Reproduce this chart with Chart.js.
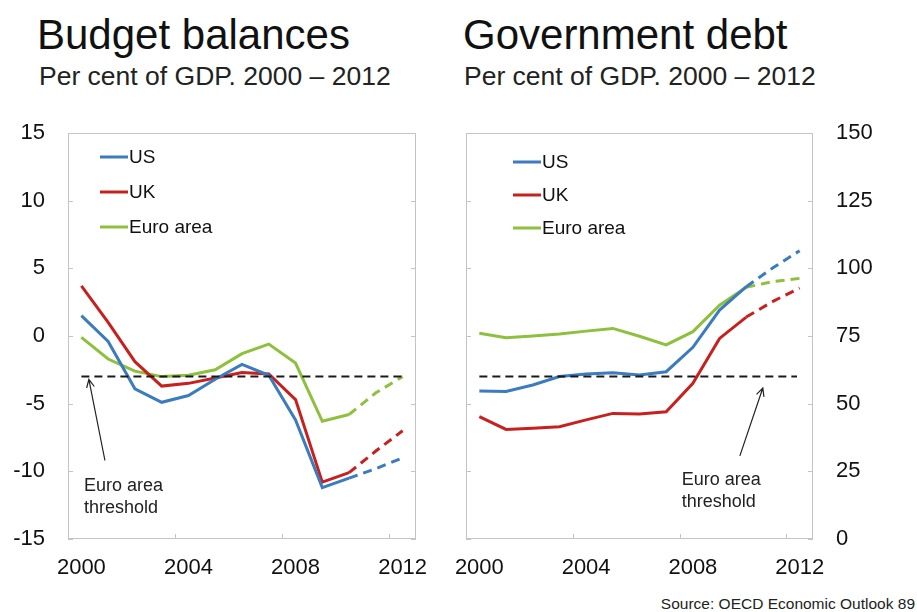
<!DOCTYPE html>
<html>
<head>
<meta charset="utf-8">
<script src="https://cdn.jsdelivr.net/npm/chart.js@4.4.1/dist/chart.umd.min.js"></script>
<style>
  body { margin: 0; background: #fff; font-family: "Liberation Sans", Arial, sans-serif; }
  #page { position: relative; width: 917px; height: 612px; overflow: hidden; background: #fff; }
  .title { position: absolute; top: 14px; font-size: 42px; line-height: 1; color: #111; white-space: nowrap; }
  .sub { position: absolute; top: 63px; font-size: 26.5px; line-height: 1; color: #222; white-space: nowrap; }
  .wrap { position: absolute; top: 110px; height: 480px; }
  #source { position: absolute; right: 2px; top: 596px; font-size: 15.5px; line-height: 1; color: #222; }
</style>
</head>
<body>
<div id="page">
  <div class="title" style="left:37px">Budget balances</div>
  <div class="sub" style="left:39px">Per cent of GDP. 2000 – 2012</div>
  <div class="title" style="left:463px">Government debt</div>
  <div class="sub" style="left:464px">Per cent of GDP. 2000 – 2012</div>
  <div class="wrap" style="left:0;width:440px"><canvas id="budgetChart"></canvas></div>
  <div class="wrap" style="left:440px;width:477px"><canvas id="debtChart"></canvas></div>
  <div id="source">Source: OECD Economic Outlook 89</div>
</div>
<script>
// categories
const years = ['2000', '2001', '2002', '2003', '2004', '2005', '2006', '2007', '2008', '2009', '2010', '2011', '2012'];
const forecastFrom = 10; // projections from 2010 onwards are dashed

const seriesNames = ['US', 'UK', 'Euro area'];
const seriesColours = ['#3b7bbf', '#c8201e', '#8dc03c'];

// budget balances, per cent of GDP
const budgetUS = [1.5, -0.4, -3.9, -4.9, -4.4, -3.2, -2.1, -2.9, -6.2, -11.2, -10.5, -9.8, -9.0];
const budgetUK = [3.7, 1.0, -1.9, -3.7, -3.5, -3.1, -2.7, -2.8, -4.7, -10.8, -10.1, -8.5, -7.0];
const budgetEuro = [-0.1, -1.7, -2.6, -3.0, -2.9, -2.5, -1.3, -0.6, -2.0, -6.3, -5.8, -4.2, -3.0];
const budgetTicks = [-15, -10, -5, 0, 5, 10, 15];
const budgetThreshold = -3;

// government debt, per cent of GDP
const debtUS = [54.7, 54.5, 56.9, 60.0, 61.0, 61.4, 60.6, 61.8, 70.8, 84.6, 93.2, 100.2, 106.5];
const debtUK = [45.2, 40.5, 40.9, 41.5, 44.0, 46.4, 46.2, 47.0, 57.5, 74.1, 82.0, 87.8, 92.7];
const debtEuro = [76.0, 74.4, 75.0, 75.7, 76.8, 77.8, 74.9, 71.7, 76.6, 86.4, 93.0, 95.1, 96.3];
const debtTicks = [0, 25, 50, 75, 100, 125, 150];
const debtThreshold = 60;

const fontFamily = '"Liberation Sans", Arial, sans-serif';
Chart.defaults.font.family = fontFamily;
Chart.defaults.color = '#111';

/**
 * Draws the frame, inner tick marks, threshold line, legend and arrow note.
 */
const decorPlugin = {
  id: 'decor',
  beforeDatasetsDraw(chart, args, opts) {
    let { ctx, chartArea: a, scales: { x, y } } = chart;
    ctx.save();
    ctx.strokeStyle = '#c4c4c4';
    ctx.lineWidth = 1;
    ctx.strokeRect(a.left + 0.5, a.top + 0.5, a.right - a.left - 1, a.bottom - a.top - 1);
    ctx.beginPath();
    y.ticks.forEach(t => {
      let py = Math.round(y.getPixelForValue(t.value)) + 0.5;
      ctx.moveTo(a.left, py); ctx.lineTo(a.left + 5, py);
      ctx.moveTo(a.right - 5, py); ctx.lineTo(a.right, py);
    });
    for (let i = 4; i < years.length; i += 4) {
      let px = Math.round(x.getPixelForValue(i - 0.5)) + 0.5;
      ctx.moveTo(px, a.bottom); ctx.lineTo(px, a.bottom - 5);
    }
    ctx.stroke();
    ctx.restore();
  },
  afterDatasetsDraw(chart, args, opts) {
    let { ctx, chartArea: a, scales: { x, y } } = chart;
    ctx.save();
    // threshold
    let ty = y.getPixelForValue(opts.threshold);
    ctx.strokeStyle = '#1a1a1a';
    ctx.lineWidth = 2;
    ctx.setLineDash([8, 5]);
    ctx.beginPath();
    ctx.moveTo(x.getPixelForValue(0), ty);
    ctx.lineTo(x.getPixelForValue(opts.thresholdEnd), ty);
    ctx.stroke();
    ctx.setLineDash([]);

    // legend
    ctx.font = '19px ' + fontFamily;
    ctx.textBaseline = 'middle';
    chart.data.datasets.forEach((ds, i) => {
      let lx = a.left + opts.legend.x, ly = a.top + opts.legend.y + i * opts.legend.gap;
      ctx.strokeStyle = ds.borderColor;
      ctx.lineWidth = 3;
      ctx.beginPath();
      ctx.moveTo(lx, ly); ctx.lineTo(lx + 28, ly);
      ctx.stroke();
      ctx.fillStyle = '#111';
      ctx.fillText(ds.label, lx + 29, ly + 1);
    });

    // arrow note
    let n = opts.note;
    let tipX = x.getPixelForValue(n.tip[0]), tipY = y.getPixelForValue(n.tip[1]);
    let tailX = x.getPixelForValue(n.tail[0]), tailY = y.getPixelForValue(n.tail[1]);
    let ang = Math.atan2(tipY - tailY, tipX - tailX);
    ctx.strokeStyle = '#222';
    ctx.lineWidth = 1.2;
    ctx.beginPath();
    ctx.moveTo(tailX, tailY); ctx.lineTo(tipX, tipY);
    ctx.moveTo(tipX - 9 * Math.cos(ang - 0.45), tipY - 9 * Math.sin(ang - 0.45));
    ctx.lineTo(tipX, tipY);
    ctx.lineTo(tipX - 9 * Math.cos(ang + 0.45), tipY - 9 * Math.sin(ang + 0.45));
    ctx.stroke();
    ctx.font = '18px ' + fontFamily;
    ctx.fillStyle = '#222';
    ctx.textAlign = 'left';
    let textX = x.getPixelForValue(n.text[0]), textY = y.getPixelForValue(n.text[1]);
    n.lines.forEach((line, i) => ctx.fillText(line, textX, textY + i * 22));
    ctx.restore();
  }
};

/**
 * Builds the three line datasets for one panel.
 */
function buildDatasets(values) {
  return values.map((data, i) => ({
    label: seriesNames[i],
    data: data,
    borderColor: seriesColours[i],
    borderWidth: 3,
    pointRadius: 0,
    tension: 0,
    fill: false,
    segment: { borderDash: ctx => ctx.p0DataIndex >= forecastFrom ? [9, 6] : undefined }
  }));
}

/**
 * Creates one panel chart.
 */
function makeChart(canvasId, values, ticks, side, decor, padding, yWidth) {
  return new Chart(document.getElementById(canvasId), {
    type: 'line',
    data: { labels: years, datasets: buildDatasets(values) },
    plugins: [decorPlugin],
    options: {
      responsive: true,
      maintainAspectRatio: false,
      animation: false,
      layout: { padding: padding },
      plugins: { legend: { display: false }, tooltip: { enabled: false }, decor: decor },
      scales: {
        x: {
          offset: true,
          grid: { display: false, drawTicks: false },
          border: { display: false },
          ticks: {
            autoSkip: false, maxRotation: 0, padding: 16, color: '#111', font: { size: 22 },
            callback: (v, i) => i % 4 === 0 ? years[i] : ''
          },
          afterFit: s => { s.height = 51; s.paddingLeft = 0; s.paddingRight = 0; }
        },
        y: {
          position: side,
          min: ticks[0],
          max: ticks[ticks.length - 1],
          grid: { display: false, drawTicks: false },
          border: { display: false },
          ticks: { padding: 23, color: '#111', font: { size: 22 } },
          afterBuildTicks: s => { s.ticks = ticks.map(v => ({ value: v })); },
          afterFit: s => { s.width = yWidth; s.paddingTop = 0; s.paddingBottom = 0; }
        }
      }
    }
  });
}

makeChart('budgetChart', [budgetUS, budgetUK, budgetEuro], budgetTicks, 'left', {
  threshold: budgetThreshold,
  thresholdEnd: 12,
  legend: { x: 32, y: 24, gap: 35 },
  note: { tip: [0.28, -3.2], tail: [0.88, -9.2], text: [0.1, -11.1], lines: ['Euro area', 'threshold'] }
}, { top: 23, right: 24, left: 0, bottom: 0 }, 68);

makeChart('debtChart', [debtUS, debtUK, debtEuro], debtTicks, 'right', {
  threshold: debtThreshold,
  thresholdEnd: 11.9,
  legend: { x: 47, y: 29, gap: 33 },
  note: { tip: [10.62, 55.8], tail: [9.76, 30.7], text: [7.58, 21.8], lines: ['Euro area', 'threshold'] }
}, { top: 23, left: 26, right: 0, bottom: 0 }, 104);
</script>
</body>
</html>
